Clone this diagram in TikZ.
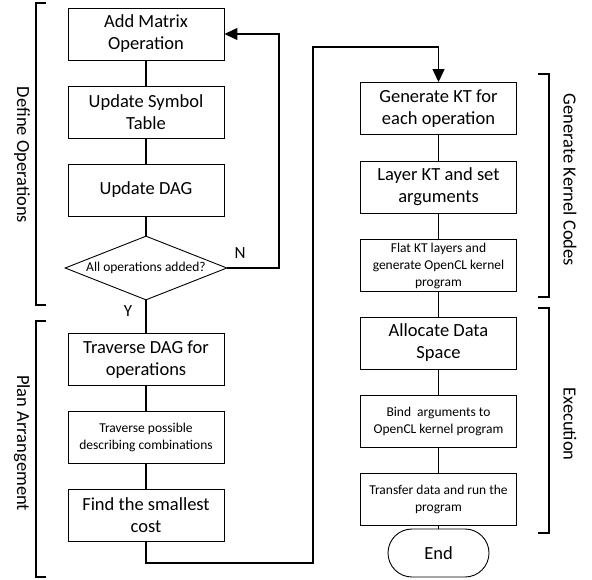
\documentclass[tikz,border=0pt]{standalone}
\usepackage{fontspec}
\setmainfont{Carlito}
\usetikzlibrary{shapes.geometric,shapes.misc,arrows.meta}
\begin{document}
\begin{tikzpicture}[x=1pt,y=-1pt,
  box/.style={draw,line width=0.9pt,minimum width=156pt,minimum height=52pt,inner sep=0pt,align=center,font=\fontsize{18.5}{22}\selectfont},
  sbox/.style={box,font=\fontsize{13.5}{17}\selectfont},
  dec/.style={draw,line width=0.9pt,diamond,aspect=2.53,minimum width=162pt,minimum height=64pt,inner sep=0pt,font=\fontsize{13.5}{16}\selectfont},
  term/.style={draw,line width=0.9pt,rounded rectangle,minimum width=101pt,minimum height=48pt,inner sep=0pt,font=\fontsize{18.5}{22}\selectfont},
  conn/.style={line width=1.2pt},
  arr/.style={conn,-{Triangle[length=13pt,width=12pt]}},
  brk/.style={line width=2pt},
  side/.style={rotate=-90,font=\fontsize{18.5}{22}\selectfont},
  yn/.style={font=\fontsize{17}{20}\selectfont}]
\useasboundingbox (0,0) rectangle (592,579);
% left column
\node[box] (b1) at (146,34) {Add Matrix\\Operation};
\node[box] (b2) at (146,112) {Update Symbol\\Table};
\node[box] (b3) at (146,190) {Update DAG};
\node[dec] (d) at (146,268) {All operations added?};
\node[box] (b4) at (146,359.5) {Traverse DAG for\\operations};
\node[sbox] (b5) at (146,437) {Traverse possible\\describing combinations};
\node[box] (b6) at (146,515.5) {Find the smallest\\cost};
% right column
\node[box] (b7) at (438.5,108.5) {Generate KT for\\each operation};
\node[box] (b8) at (438.5,187) {Layer KT and set\\arguments};
\node[sbox] (b9) at (438.5,265.5) {Flat KT layers and\\generate OpenCL kernel\\program};
\node[box] (b10) at (438.5,343) {Allocate Data\\Space};
\node[sbox] (b11) at (438.5,421) {Bind\ \ arguments to\\OpenCL kernel program};
\node[sbox] (b12) at (438.5,499) {Transfer data and run the\\program};
\node[term] (end) at (438.5,553) {End};
% coordinates
\coordinate (n1) at (279,268);
\coordinate (n2) at (279,34);
\coordinate (c1) at (146,563);
\coordinate (c2) at (313,563);
\coordinate (c3) at (313,47);
\coordinate (c4) at (438.5,47);
% connectors
\draw[conn] (b1) -- (b2);
\draw[conn] (b2) -- (b3);
\draw[conn] (b3) -- (d);
\draw[conn] (d.south) -- (b4.north);
\draw[conn] (b4) -- (b5);
\draw[conn] (b5) -- (b6);
\draw[arr] (d.east) -- (n1) -- (n2) -- (b1.east);
\draw[arr] (b6.south) -- (c1) -- (c2) -- (c3) -- (c4) -- (b7.north);
\draw[conn] (b7) -- (b8);
\draw[conn] (b8) -- (b9);
\draw[conn] (b9) -- (b10);
\draw[conn] (b10) -- (b11);
\draw[conn] (b11) -- (b12);
\draw[conn] (b12) -- (end);
\node[yn] (nlab) at (240,253) {N};
\node[yn] (ylab) at (128,311) {Y};
% brackets
\draw[brk] (46,3) -- (36,3) -- (36,305) -- (46,305);
\draw[brk] (46,321) -- (36,321) -- (36,577) -- (46,577);
\draw[brk] (538,74) -- (549,74) -- (549,297) -- (538,297);
\draw[brk] (538,308) -- (549,308) -- (549,533) -- (538,533);
\node[side] (l1) at (22,155) {Define Operations};
\node[side] (l2) at (22,443) {Plan Arrangement};
\node[side] (l3) at (570,180) {Generate Kernel Codes};
\node[side] (l4) at (570,424) {Execution};
\end{tikzpicture}
\end{document}
